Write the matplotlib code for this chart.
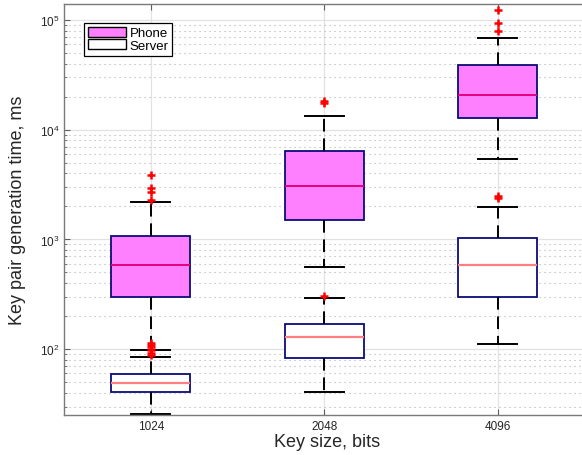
import matplotlib
matplotlib.use('Agg')
from matplotlib import pyplot as plt
from matplotlib.patches import Patch
from matplotlib.ticker import LogLocator, NullFormatter

plt.rcParams['font.family'] = ['Liberation Sans', 'DejaVu Sans']
plt.rcParams['mathtext.fontset'] = 'custom'
plt.rcParams['mathtext.rm'] = 'Liberation Sans'
plt.rcParams['mathtext.it'] = 'Liberation Sans'

key_sizes = ['1024', '2048', '4096']

# phone stats
phone_q1 = [300, 1500, 12850]
phone_med = [590, 3050, 20800]
phone_q3 = [1070, 6400, 38500]
phone_lo = [98, 556, 5370]
phone_hi = [2200, 13300, 69000]
phone_out = [[2300, 2700, 2970, 3850], [17600, 18300], [80000, 94500, 123000]]

# server stats
server_q1 = [41, 83, 301]
server_med = [48.8, 129, 580]
server_q3 = [59.6, 170, 1020]
server_lo = [25.5, 41, 111]
server_hi = [85, 293, 1995]
server_out = [[88, 93, 98, 104, 109, 114], [305], [2400, 2480]]


def make_stats(q1, med, q3, lo, hi, out):
    stats = []
    for i in range(len(q1)):
        stats.append({'q1': q1[i], 'med': med[i], 'q3': q3[i],
                      'whislo': lo[i], 'whishi': hi[i], 'fliers': out[i]})
    return stats


fig = plt.figure(figsize=(5.82, 4.56), dpi=100)
# right edge of the axes sits just outside the picture, like the original
ax = fig.add_axes([64 / 582, 1 - 416 / 456, 526 / 582, 411 / 456])

pos = [1, 2, 3]
box_edge = '#0c0c78'

common = dict(positions=pos, widths=0.455, patch_artist=True,
              whiskerprops=dict(color='black', linewidth=1.4, linestyle=(0, (6.5, 3.5))),
              capprops=dict(color='black', linewidth=1.4),
              flierprops=dict(marker='+', markeredgecolor='red', markersize=6, markeredgewidth=1.8),
              manage_ticks=False)

ax.bxp(make_stats(phone_q1, phone_med, phone_q3, phone_lo, phone_hi, phone_out),
       boxprops=dict(facecolor='#ff80ff', edgecolor=box_edge, linewidth=1.3),
       medianprops=dict(color='#e6007e', linewidth=1.4), **common)
ax.bxp(make_stats(server_q1, server_med, server_q3, server_lo, server_hi, server_out),
       boxprops=dict(facecolor='white', edgecolor=box_edge, linewidth=1.3),
       medianprops=dict(color='#ff8080', linewidth=1.6), **common)

# cap width is half the box
for line in ax.lines:
    xd = line.get_xdata()
    if len(xd) == 2 and line.get_linestyle() == '-' and line.get_color() == 'black':
        c = (xd[0] + xd[1]) / 2
        line.set_xdata([c - 0.1125, c + 0.1125])

ax.set_yscale('log')
ax.set_ylim(25.1, 139900)
ax.set_xlim(0.5, 0.5 + 526 / 173.5)
ax.set_xticks(pos)
ax.set_xticklabels(key_sizes)
ax.yaxis.set_major_locator(LogLocator(base=10))
ax.yaxis.set_minor_locator(LogLocator(base=10, subs=range(2, 10)))
ax.yaxis.set_minor_formatter(NullFormatter())

ax.grid(True, which='major', color='#e2e2e2', linestyle='-', linewidth=0.9)
ax.grid(True, which='minor', axis='y', color='#b0b0b0', linestyle=(0, (1, 3.5)), linewidth=0.8)
ax.set_axisbelow(True)

ax.tick_params(which='both', direction='in', top=True, right=True, colors='#606060',
               labelcolor='#262626', labelsize=8.5)
ax.tick_params(which='major', length=4)
ax.tick_params(which='minor', length=2)
for s in ax.spines.values():
    s.set_color('#7a7a7a')
    s.set_linewidth(1.0)

ax.set_xlabel('Key size, bits', fontsize=13, color='#262626', labelpad=1)
ax.set_ylabel('Key pair generation time, ms', fontsize=13, color='#262626', labelpad=10)

handles = [Patch(facecolor='#ff80ff', edgecolor='black', linewidth=1.0),
           Patch(facecolor='white', edgecolor='black', linewidth=1.0)]
leg = ax.legend(handles, ['Phone', 'Server'], loc='upper left',
                bbox_to_anchor=(20 / 526, 0.954), borderaxespad=0, fontsize=9.5,
                fancybox=False, edgecolor='black', framealpha=1,
                handlelength=2.9, handleheight=0.75, handletextpad=0.25,
                labelspacing=0.0, borderpad=0.3)
leg.get_frame().set_linewidth(0.9)

fig.savefig('out.png', dpi=100)
